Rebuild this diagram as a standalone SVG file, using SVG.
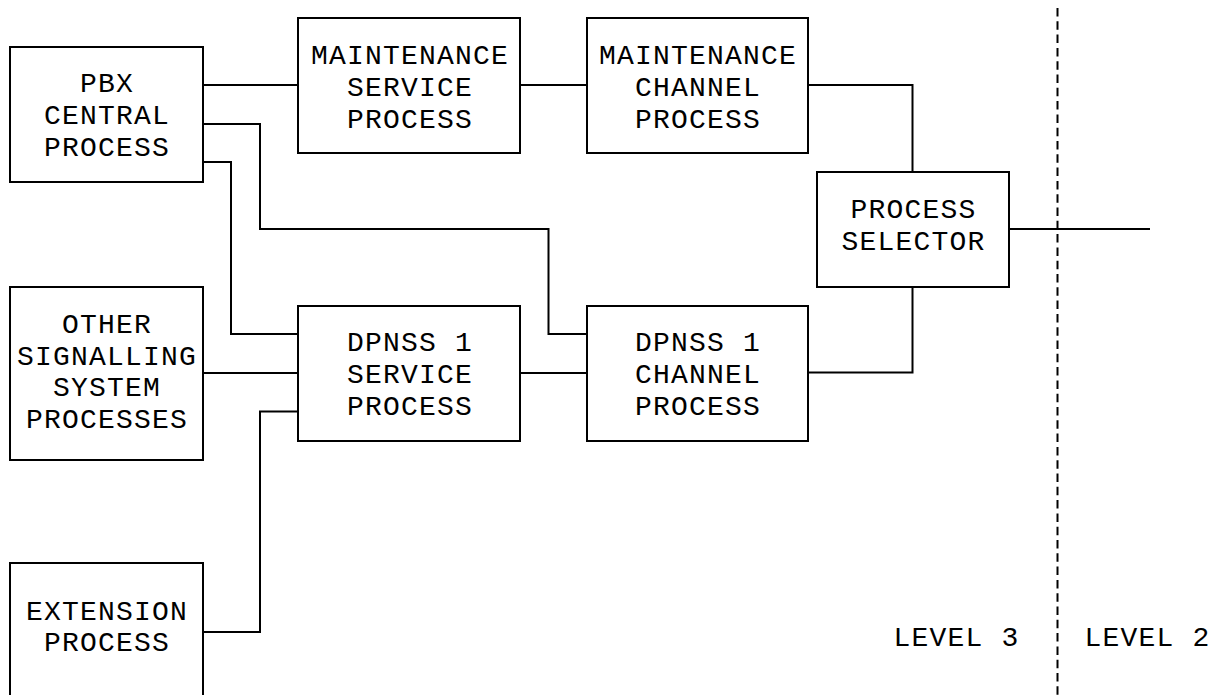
<svg xmlns="http://www.w3.org/2000/svg" width="1212" height="695" viewBox="0 0 1212 695">
<style>
.box{fill:#fff;stroke:#000;stroke-width:2}
.ln{fill:none;stroke:#000;stroke-width:2}
.dash{fill:none;stroke:#000;stroke-width:2;stroke-dasharray:8.5 4.8}
text{font-family:"Liberation Mono",monospace;font-size:28px;letter-spacing:1.2px;fill:#000;text-anchor:middle}
</style>
<rect width="1212" height="695" fill="#fff"/>
<g id="connectors">
<path class="ln" d="M203,85 H298"/>
<path class="ln" d="M520,85 H587"/>
<path class="ln" d="M808,85 H912.5 V172"/>
<path class="ln" d="M912.5,287 V372.5 H808"/>
<path class="ln" d="M1009,229 H1150"/>
<path class="ln" d="M203,124 H260 V229 H548.5 V334 H587"/>
<path class="ln" d="M203,162 H231 V334 H298"/>
<path class="ln" d="M203,373 H298"/>
<path class="ln" d="M520,373 H587"/>
<path class="ln" d="M203,632 H260 V411.5 H298"/>
</g>
<g id="level-boundary">
<path class="dash" d="M1057.5,8 V695"/>
<text x="956.6" y="646">LEVEL 3</text>
<text x="1147.6" y="646">LEVEL 2</text>
</g>
<g id="pbx-central">
<rect class="box" x="10" y="47" width="193" height="135"/>
<text x="107.1" y="92">PBX</text>
<text x="107.1" y="124">CENTRAL</text>
<text x="107.1" y="156">PROCESS</text>
</g>
<g id="maintenance-service">
<rect class="box" x="298" y="18" width="222" height="135"/>
<text x="410.1" y="64">MAINTENANCE</text>
<text x="410.1" y="95.5">SERVICE</text>
<text x="410.1" y="127.5">PROCESS</text>
</g>
<g id="maintenance-channel">
<rect class="box" x="587" y="18" width="221" height="135"/>
<text x="698.1" y="64">MAINTENANCE</text>
<text x="698.1" y="95.5">CHANNEL</text>
<text x="698.1" y="127.5">PROCESS</text>
</g>
<g id="process-selector">
<rect class="box" x="817" y="172" width="192" height="115"/>
<text x="913.6" y="217.5">PROCESS</text>
<text x="913.6" y="249.5">SELECTOR</text>
</g>
<g id="other-signalling">
<rect class="box" x="10" y="287" width="193" height="173"/>
<text x="107.1" y="332.5">OTHER</text>
<text x="107.1" y="364.5">SIGNALLING</text>
<text x="107.1" y="396">SYSTEM</text>
<text x="107.1" y="428">PROCESSES</text>
</g>
<g id="dpnss-service">
<rect class="box" x="298" y="306" width="222" height="135"/>
<text x="410.1" y="351">DPNSS 1</text>
<text x="410.1" y="383">SERVICE</text>
<text x="410.1" y="415">PROCESS</text>
</g>
<g id="dpnss-channel">
<rect class="box" x="587" y="306" width="221" height="135"/>
<text x="698.1" y="351">DPNSS 1</text>
<text x="698.1" y="383">CHANNEL</text>
<text x="698.1" y="415">PROCESS</text>
</g>
<g id="extension">
<rect class="box" x="10" y="563" width="193" height="150"/>
<text x="107.1" y="620">EXTENSION</text>
<text x="107.1" y="651">PROCESS</text>
</g>
</svg>
